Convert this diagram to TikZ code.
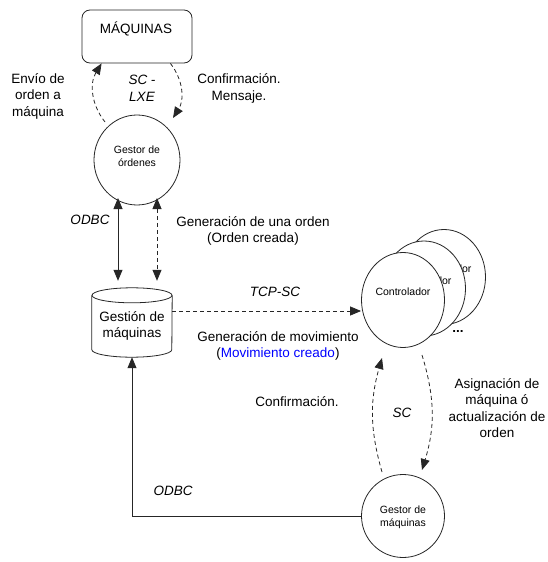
\documentclass[tikz,border=0pt]{standalone}
\usepackage{fontspec}
\setmainfont{Liberation Sans}
\usetikzlibrary{arrows.meta,calc,shapes.geometric}
\begin{document}
\begin{tikzpicture}[x=1pt,y=-1pt,
  line/.style={draw=black!85, line width=0.8pt},
  dsh/.style={line, dash pattern=on 4pt off 3pt},
  tip/.style={-{Triangle[length=11pt,width=9pt]}},
  tips/.style={{Triangle[length=11pt,width=9pt]}-{Triangle[length=11pt,width=9pt]}},
  lbl/.style={font=\fontsize{13.5}{16.5}\selectfont, align=center, inner sep=0pt},
  ilbl/.style={lbl, font=\fontsize{13.5}{16.5}\selectfont\itshape},
  small/.style={font=\fontsize{10.5}{13}\selectfont, align=center, inner sep=0pt},
  proc/.style={ellipse, line, fill=white, inner sep=0pt},
]
\useasboundingbox (0,0) rectangle (547,562);

% external store of machines
\node[line, rounded corners=8pt, minimum width=110pt, minimum height=53pt] (maq) at (137,36.5) {};
\node[lbl] (maqtxt) at (136,29) {MÁQUINAS};

% order manager process
\node[proc, minimum width=86pt, minimum height=90pt] (go) at (137,160) {};
\node[small] (gotxt) at (137,156) {Gestor de\\órdenes};

% machine management database (cylinder)
\node[minimum width=80pt, minimum height=69pt, inner sep=0pt] (cyl) at (132,322.5) {};
\draw[line] ([yshift=-7.5pt]cyl.north) ellipse [x radius=40pt, y radius=7.5pt];
\draw[line] ([yshift=-7.5pt]cyl.north west) -- ([yshift=7.5pt]cyl.south west)
  arc[start angle=180, end angle=360, x radius=40pt, y radius=7.5pt]
  -- ([yshift=-7.5pt]cyl.north east);
\node[lbl] (cyltxt) at (132,326) {Gestión de\\máquinas};

% stacked controllers
\node[proc, minimum width=83pt, minimum height=95pt] (ctrl3) at (444,277) {};
\node[small] (ctrl3txt) at (444,269) {Controlador};
\node[proc, minimum width=83pt, minimum height=95pt] (ctrl2) at (424,288.5) {};
\node[small] (ctrl2txt) at (424,280.5) {Controlador};
\node[proc, minimum width=83pt, minimum height=95pt] (ctrl1) at (403,300) {};
\node[small] (ctrl1txt) at (403,292) {Controlador};
\node[font=\bfseries\fontsize{13.5}{16}\selectfont, inner sep=0pt] (more) at (458,331) {...};

% machine manager process
\node[proc, minimum width=83pt, minimum height=83pt] (gm) at (403,516) {};
\node[small] (gmtxt) at (403,517) {Gestor de\\máquinas};

% connectors
\draw[dsh,tip] ($(go)+(-32,-38)$) to[bend left=35] ([xshift=20pt]maq.south west);
\draw[dsh,tip] ([xshift=-22pt]maq.south east) to[bend left=35] ($(go)+(36,-42)$);

\draw[line,tips] ($(go)+(-19,38)$) -- ($(cyl.north)+(-14,-7)$);
\draw[dsh,tips] ($(go)+(20,38)$) -- ($(cyl.north)+(25,-7)$);

\draw[dsh,tip] ([yshift=11.5pt]cyl.east) -- ([yshift=11.5pt]cyl.east -| ctrl1.west);

\draw[dsh,tip] ($(gm)+(-21,-44)$) to[bend left=16] ($(ctrl1)+(-21,58)$);
\draw[dsh,tip] ($(ctrl1)+(19,55)$) to[bend left=17] ($(gm)+(19,-46)$);

\draw[line,tip] (gm.west) -| (cyl.south);

% labels
\node[lbl] (l1) at (38,96) {Envío de\\orden a\\máquina};
\node[ilbl] (l2) at (142,88.5) {SC -\\LXE};
\node[lbl] (l3) at (239,88.5) {Confirmación.\\Mensaje.};
\node[ilbl] (l4) at (90,220) {ODBC};
\node[lbl] (l5) at (253,231) {Generación de una orden\\(Orden creada)};
\node[ilbl] (l6) at (275,292) {TCP-SC};
\node[lbl] (l7) at (278,346) {Generación de movimiento\\(\textcolor{blue}{Movimiento creado})};
\node[lbl] (l8) at (297,402) {Confirmación.};
\node[ilbl] (l9) at (402,413) {SC};
\node[lbl] (l10) at (497,408) {Asignación de\\máquina ó\\actualización de\\orden};
\node[ilbl] (l11) at (173,491) {ODBC};
\end{tikzpicture}
\end{document}
